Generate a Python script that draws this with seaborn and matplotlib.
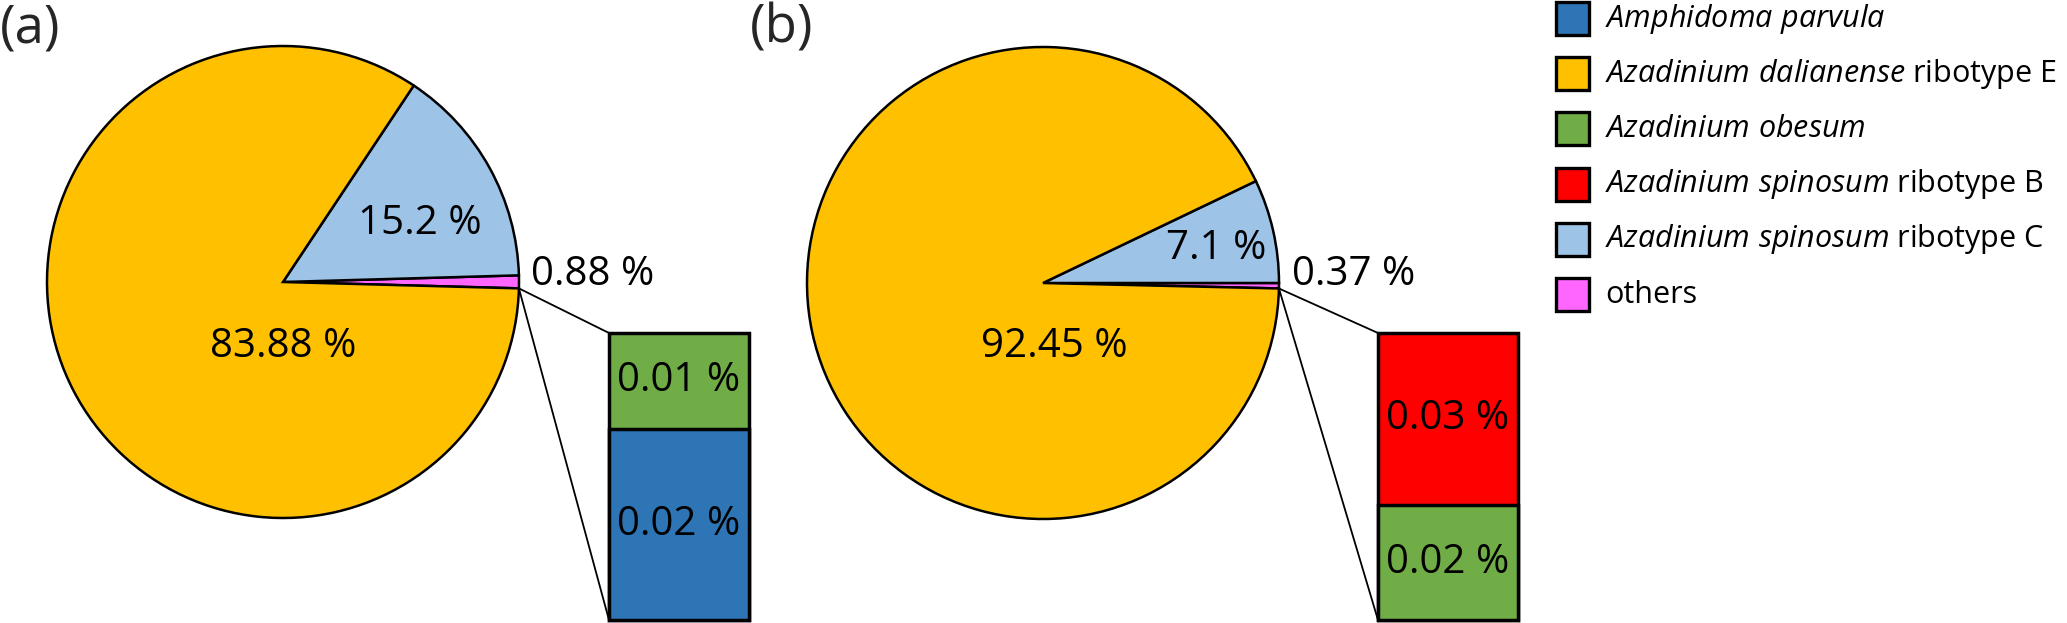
import matplotlib
matplotlib.use("Agg")
import matplotlib.pyplot as plt
import seaborn as sns
import pandas as pd
import numpy as np
from matplotlib.patches import Rectangle, ConnectionPatch

# legend / colour table
species = ["Amphidoma parvula", "Azadinium dalianense ribotype E", "Azadinium obesum",
           "Azadinium spinosum ribotype B", "Azadinium spinosum ribotype C", "others"]
legend_labels = [r"$\it{Amphidoma\ parvula}$",
                 r"$\it{Azadinium\ dalianense}$ ribotype E",
                 r"$\it{Azadinium\ obesum}$",
                 r"$\it{Azadinium\ spinosum}$ ribotype B",
                 r"$\it{Azadinium\ spinosum}$ ribotype C",
                 "others"]
species_colors = ["#2E75B6", "#FFC000", "#70AD47", "#FF0000", "#9DC3E6", "#FF66FF"]
pal = dict(zip(species, species_colors))

# main pies (percent), counter-clockwise from the right
pie_groups = ["others", "Azadinium spinosum ribotype C", "Azadinium dalianense ribotype E"]
pie_a = [0.88, 15.2, 83.88]
pie_b = [0.37, 7.1, 92.45]

# breakdown of "others" (bottom to top)
bar_a_groups = ["Amphidoma parvula", "Azadinium obesum"]
bar_a = [0.02, 0.01]
bar_b_groups = ["Azadinium obesum", "Azadinium spinosum ribotype B"]
bar_b = [0.02, 0.03]

sns.set_theme(style="white")
plt.rcParams["font.family"] = ["Open Sans", "DejaVu Sans"]
plt.rcParams["mathtext.fontset"] = "custom"
plt.rcParams["mathtext.it"] = "Open Sans:italic"
plt.rcParams["mathtext.rm"] = "Open Sans"

W, H = 2067, 623
fig = plt.figure(figsize=(W / 100, H / 100), dpi=100)
fig.patch.set_facecolor("white")

FS = 29


def px_axes(x0, y0, x1, y1):
    return fig.add_axes([x0 / W, 1 - y1 / H, (x1 - x0) / W, (y1 - y0) / H])


def panel(tag, tag_x, cx, cy, vals, start, label_xy, bx, bar_vals, bar_groups):
    R = 236
    pad = 1.05
    ax = px_axes(cx - R * pad, cy - R * pad, cx + R * pad, cy + R * pad)
    wedges, _ = ax.pie(vals, colors=[pal[g] for g in pie_groups], startangle=start,
                       counterclock=True,
                       wedgeprops=dict(edgecolor="black", linewidth=1.8))
    ax.set_xlim(-pad, pad)
    ax.set_ylim(-pad, pad)
    ax.axis("off")
    for v, (lx, ly), ha in zip(vals, label_xy, ["left", "center", "center"]):
        ax.text(lx, ly, f"{v:g} %", ha=ha, va="center", fontsize=FS, color="black")

    # bar of the "others" slice
    bax = px_axes(bx, 333, bx + 140, 620)
    cum = np.cumsum(bar_vals)
    for i in reversed(range(len(bar_vals))):
        sns.barplot(x=[0], y=[cum[i]], color=pal[bar_groups[i]], saturation=1,
                    width=1, edgecolor="black", linewidth=2.5, ax=bax)
    for p in bax.patches:
        p.set_clip_on(False)
    for i, v in enumerate(bar_vals):
        bax.text(0, cum[i] - v / 2, f"{v:g} %", ha="center", va="center",
                 fontsize=FS, color="black")
    bax.set_xlim(-0.5, 0.5)
    bax.set_ylim(0, cum[-1])
    bax.axis("off")

    w = wedges[0]
    th = np.deg2rad(w.theta1)
    for yb in [cum[-1], 0]:
        con = ConnectionPatch(xyA=(np.cos(th), np.sin(th)), coordsA=ax.transData,
                              xyB=(-0.5, yb), coordsB=bax.transData,
                              color="black", linewidth=1.3)
        fig.add_artist(con)

    fig.text(tag_x / W, 1 - 2 / H, tag, ha="left", va="top", fontsize=38)


panel("(a)", 0, 283, 282, pie_a, -1.55,
      [(1.05, 0.03), (0.58, 0.246), (0.0, -0.275)], 609, bar_a, bar_a_groups)
panel("(b)", 750, 1043, 283, pie_b, -1.33,
      [(1.055, 0.034), (0.733, 0.144), (0.047, -0.27)], 1378, bar_b, bar_b_groups)

# legend
lax = px_axes(1540, 0, W, 340)
lax.set_xlim(1540, W)
lax.set_ylim(340, 0)
lax.axis("off")
for i, (lab, c) in enumerate(zip(legend_labels, species_colors)):
    yc = 18.5 + 55.2 * i
    lax.add_patch(Rectangle((1556, yc - 16.5), 33, 33, facecolor=c, edgecolor="black",
                            linewidth=2.4, clip_on=False))
    lax.text(1605, yc, lab, ha="left", va="center", fontsize=22, color="black")

fig.savefig("out.png", dpi=100, facecolor="white")
